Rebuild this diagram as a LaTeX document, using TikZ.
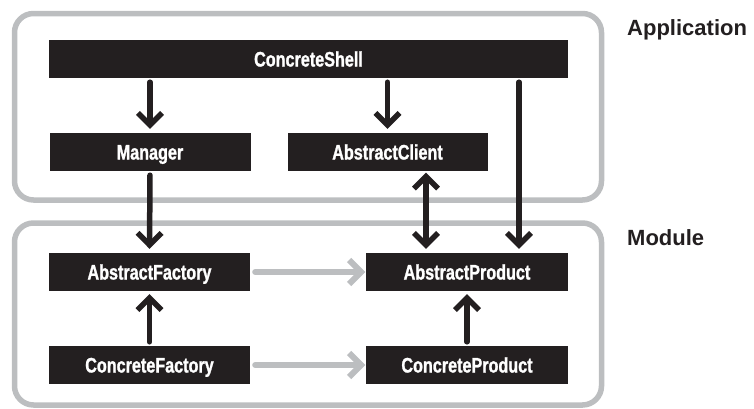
\documentclass[tikz,border=0pt]{standalone}
\usepackage{fontspec}
\setmainfont{Liberation Sans}
\newfontfamily\condf{Liberation Sans}[FakeStretch=0.77,FakeBold=1.2]
\usetikzlibrary{arrows.meta}
\definecolor{boxblack}{HTML}{231F20}
\definecolor{framegray}{HTML}{BCBEC0}
\begin{document}
\begin{tikzpicture}[x=1pt,y=-1pt,
  cls/.style={fill=boxblack, draw=none, text=white, minimum width=#1, minimum height=38pt,
    inner sep=0pt, text height=15pt, text depth=0pt,
    font=\condf\bfseries\fontsize{21}{22}\selectfont},
  container/.style={draw=framegray, line width=5.5pt, rounded corners=19pt, inner sep=0pt},
  lbl/.style={anchor=base west, inner sep=0pt, text=boxblack, font=\bfseries\fontsize{22}{24}\selectfont},
  blk/.style={draw=boxblack, line width=5.5pt, line cap=round,
    -{Straight Barb[length=12pt,width=24pt]}, shorten <=4pt, shorten >=4pt},
  blkdbl/.style={draw=boxblack, line width=5.5pt,
    {Straight Barb[length=12pt,width=24pt]}-{Straight Barb[length=12pt,width=24pt]}, shorten <=1.5pt, shorten >=4pt},
  gry/.style={draw=framegray, line width=6pt, line cap=round,
    -{Straight Barb[length=12pt,width=24pt]}, shorten <=5pt, shorten >=0.5pt}
]
\useasboundingbox (0,0) rectangle (754,408);
% containers
\node[container, minimum width=587pt, minimum height=186.5pt] (app) at (308,106.75) {};
\node[container, minimum width=587pt, minimum height=182pt] (mod) at (308,314) {};
\node[lbl] (applbl) at (627,35) {Application};
\node[lbl] (modlbl) at (627,245) {Module};
% class boxes
\node[cls=519pt] (shell) at (308.5,59) {ConcreteShell};
\node[cls=201pt] (man) at (150,152) {Manager};
\node[cls=200pt] (ac) at (387.5,152) {AbstractClient};
\node[cls=201pt] (af) at (149.5,272) {AbstractFactory};
\node[cls=202pt] (ap) at (467,272) {AbstractProduct};
\node[cls=201pt] (cf) at (149.5,365) {ConcreteFactory};
\node[cls=202pt] (cp) at (467,365) {ConcreteProduct};
% helper coordinates
\coordinate (rt) at ([xshift=52pt]ap.north);
\coordinate (dbl) at ([xshift=-41pt]ap.north);
% connectors
\draw[blk] (man.north |- shell.south) -- (man.north);
\draw[blk] (ac.north |- shell.south) -- (ac.north);
\draw[blk] (rt |- shell.south) -- (rt);
\draw[blk] (man.south) -- (af.north);
\draw[blkdbl] (dbl |- ac.south) -- (dbl);
\draw[blk, shorten >=3pt] (cf.north) -- (af.south);
\draw[blk, shorten >=3pt] (cp.north) -- (ap.south);
\draw[gry] (af.east) -- (ap.west);
\draw[gry] (cf.east) -- (cp.west);
\end{tikzpicture}
\end{document}
